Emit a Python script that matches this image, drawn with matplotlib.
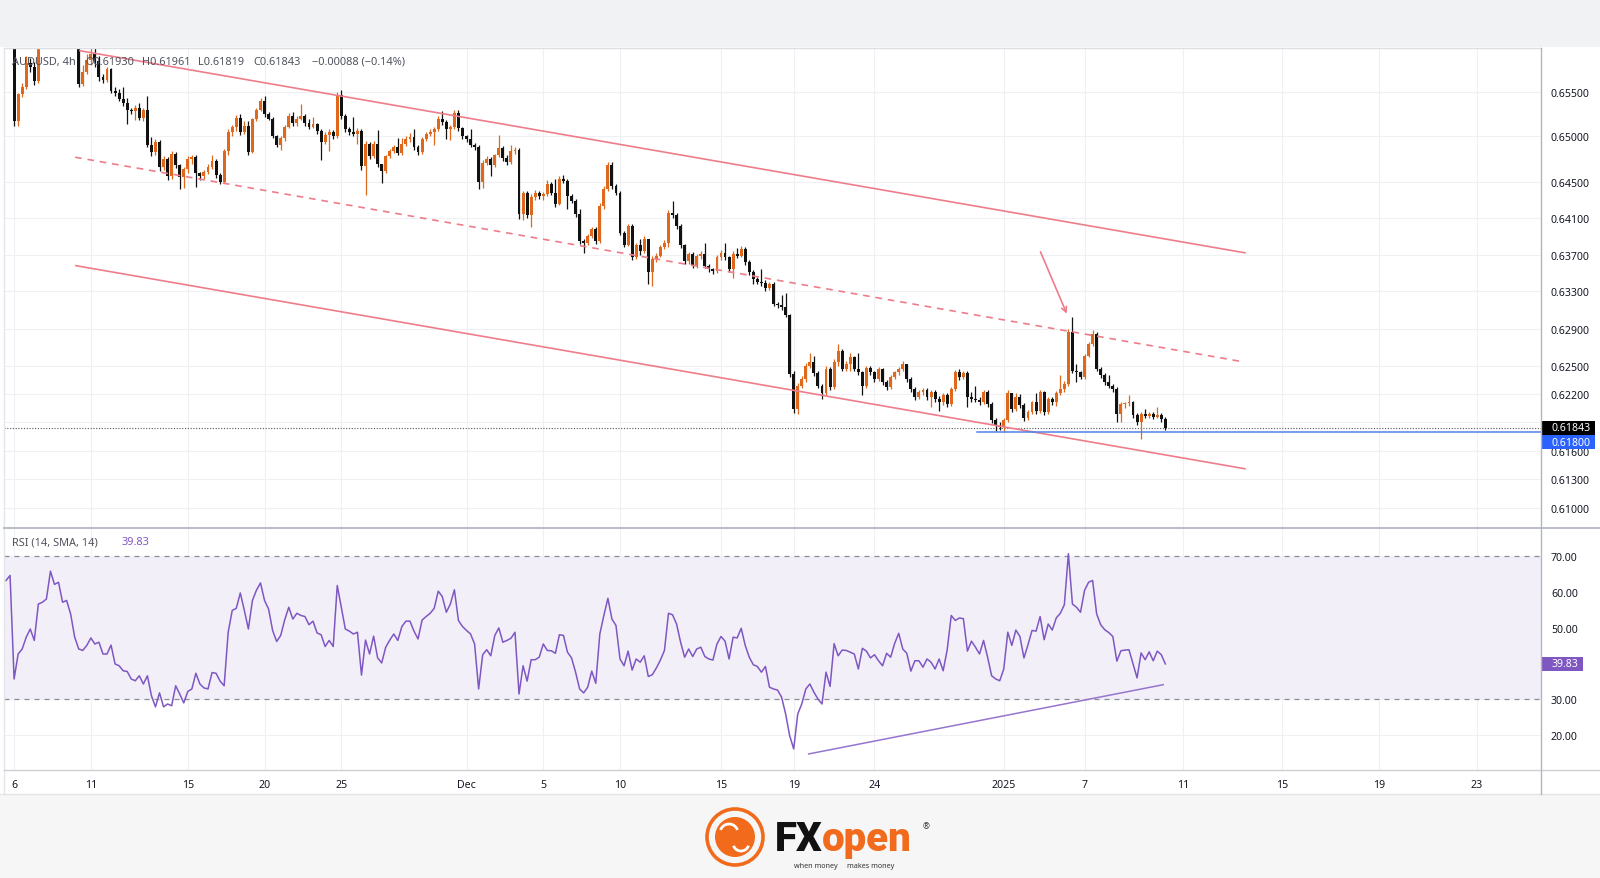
import numpy as np
import matplotlib
matplotlib.use('Agg')
import matplotlib.pyplot as plt
from matplotlib.patches import Rectangle, Circle, Arc
from matplotlib.ticker import NullLocator

plt.rcParams['font.family'] = ['Noto Sans', 'DejaVu Sans']

# ---- AUDUSD 4h bars (open = previous close), first two bars are Nov 5 ----
first_open = 0.6625
close = [
    0.6622, 0.6615,
    0.6517, 0.6547, 0.6555, 0.6582, 0.6578, 0.6562, 0.6615, 0.6628, 0.6640, 0.6652,
    0.6670, 0.6662, 0.6655, 0.6640, 0.6625, 0.6612, 0.6559, 0.6572, 0.6586, 0.6592,
    0.6585, 0.6566, 0.6563, 0.6575, 0.6551, 0.6549, 0.6542, 0.6537, 0.6530, 0.6528,
    0.6532, 0.6521, 0.6529, 0.6490, 0.6483, 0.6494, 0.6466, 0.6475, 0.6456, 0.6481,
    0.6468, 0.6455, 0.6464, 0.6475, 0.6477, 0.6459, 0.6456, 0.6461, 0.6466, 0.6473,
    0.6457, 0.6450, 0.6484, 0.6505, 0.6510, 0.6521, 0.6505, 0.6512, 0.6483, 0.6519,
    0.6530, 0.6540, 0.6525, 0.6520, 0.6500, 0.6491, 0.6498, 0.6511, 0.6523, 0.6515,
    0.6520, 0.6523, 0.6515, 0.6511, 0.6514, 0.6506, 0.6494, 0.6502, 0.6505, 0.6500,
    0.6546, 0.6523, 0.6508, 0.6505, 0.6503, 0.6506, 0.6467, 0.6492, 0.6478, 0.6492,
    0.6469, 0.6462, 0.6478, 0.6484, 0.6488, 0.6482, 0.6492, 0.6497, 0.6499, 0.6488,
    0.6483, 0.6497, 0.6503, 0.6505, 0.6508, 0.6520, 0.6516, 0.6508, 0.6510, 0.6526,
    0.6509, 0.6500, 0.6497, 0.6490, 0.6488, 0.6450, 0.6471, 0.6475, 0.6468, 0.6479,
    0.6487, 0.6476, 0.6472, 0.6484, 0.6485, 0.6414, 0.6438, 0.6413, 0.6433, 0.6438,
    0.6434, 0.6436, 0.6447, 0.6438, 0.6425, 0.6453, 0.6451, 0.6434, 0.6429, 0.6414,
    0.6385, 0.6383, 0.6390, 0.6398, 0.6385, 0.6423, 0.6442, 0.6468, 0.6445, 0.6438,
    0.6394, 0.6381, 0.6401, 0.6367, 0.6381, 0.6374, 0.6387, 0.6351, 0.6365, 0.6369,
    0.6378, 0.6383, 0.6416, 0.6413, 0.6401, 0.6380, 0.6363, 0.6371, 0.6358, 0.6369,
    0.6371, 0.6358, 0.6354, 0.6352, 0.6367, 0.6372, 0.6367, 0.6354, 0.6371, 0.6369,
    0.6376, 0.6362, 0.6351, 0.6344, 0.6340, 0.6339, 0.6334, 0.6338, 0.6317, 0.6315,
    0.6313, 0.6305, 0.6241, 0.6204, 0.6229, 0.6236, 0.6250, 0.6254, 0.6242, 0.6229,
    0.6221, 0.6247, 0.6227, 0.6254, 0.6266, 0.6247, 0.6252, 0.6259, 0.6247, 0.6243,
    0.6228, 0.6248, 0.6243, 0.6236, 0.6247, 0.6233, 0.6227, 0.6238, 0.6243, 0.6247,
    0.6252, 0.6236, 0.6225, 0.6217, 0.6222, 0.6224, 0.6217, 0.6222, 0.6215, 0.6211,
    0.6219, 0.6209, 0.6225, 0.6243, 0.6238, 0.6242, 0.6217, 0.6215, 0.6214, 0.6211,
    0.6222, 0.6209, 0.6192, 0.6186, 0.6185, 0.6192, 0.6221, 0.6204, 0.6217, 0.6208,
    0.6194, 0.6201, 0.6211, 0.6202, 0.6222, 0.6201, 0.6215, 0.6211, 0.6221, 0.6225,
    0.6231, 0.6286, 0.6245, 0.6243, 0.6238, 0.6261, 0.6273, 0.6284, 0.6247, 0.6240,
    0.6233, 0.6229, 0.6225, 0.6199, 0.6209, 0.6210, 0.6211, 0.6198, 0.6190, 0.6199,
    0.6197, 0.6199, 0.6196, 0.6198, 0.6193, 0.61843,
]
high = [
    0.6630, 0.6628,
    0.6630, 0.6549, 0.6560, 0.6590, 0.6588, 0.6583, 0.6625, 0.6640, 0.6655, 0.6668,
    0.6688, 0.6680, 0.6668, 0.6660, 0.6645, 0.6630, 0.6615, 0.6580, 0.6592, 0.6605,
    0.6610, 0.6590, 0.6570, 0.6578, 0.6577, 0.6555, 0.6553, 0.6555, 0.6543, 0.6532,
    0.6535, 0.6537, 0.6532, 0.6545, 0.6499, 0.6497, 0.6496, 0.6478, 0.6477, 0.6484,
    0.6483, 0.6470, 0.6466, 0.6478, 0.6480, 0.6479, 0.6461, 0.6463, 0.6469, 0.6479,
    0.6475, 0.6459, 0.6486, 0.6508, 0.6513, 0.6524, 0.6525, 0.6517, 0.6517, 0.6521,
    0.6532, 0.6543, 0.6545, 0.6527, 0.6522, 0.6502, 0.6500, 0.6513, 0.6526, 0.6527,
    0.6523, 0.6536, 0.6525, 0.6520, 0.6522, 0.6515, 0.6508, 0.6505, 0.6508, 0.6507,
    0.6550, 0.6552, 0.6525, 0.6510, 0.6522, 0.6509, 0.6508, 0.6495, 0.6494, 0.6495,
    0.6507, 0.6470, 0.6480, 0.6486, 0.6491, 0.6498, 0.6498, 0.6500, 0.6504, 0.6508,
    0.6490, 0.6499, 0.6505, 0.6508, 0.6511, 0.6523, 0.6528, 0.6518, 0.6513, 0.6530,
    0.6529, 0.6511, 0.6502, 0.6508, 0.6493, 0.6490, 0.6474, 0.6478, 0.6477, 0.6481,
    0.6502, 0.6489, 0.6480, 0.6490, 0.6488, 0.6487, 0.6440, 0.6440, 0.6436, 0.6441,
    0.6440, 0.6439, 0.6452, 0.6450, 0.6453, 0.6456, 0.6457, 0.6453, 0.6436, 0.6431,
    0.6420, 0.6387, 0.6392, 0.6400, 0.6400, 0.6426, 0.6445, 0.6472, 0.6472, 0.6447,
    0.6440, 0.6396, 0.6403, 0.6403, 0.6383, 0.6387, 0.6390, 0.6385, 0.6368, 0.6372,
    0.6380, 0.6386, 0.6419, 0.6429, 0.6415, 0.6403, 0.6382, 0.6373, 0.6373, 0.6371,
    0.6374, 0.6383, 0.6360, 0.6356, 0.6370, 0.6375, 0.6383, 0.6368, 0.6374, 0.6377,
    0.6379, 0.6378, 0.6364, 0.6353, 0.6346, 0.6354, 0.6342, 0.6340, 0.6340, 0.6319,
    0.6326, 0.6328, 0.6306, 0.6244, 0.6232, 0.6239, 0.6253, 0.6264, 0.6261, 0.6244,
    0.6231, 0.6250, 0.6249, 0.6257, 0.6273, 0.6268, 0.6255, 0.6264, 0.6261, 0.6264,
    0.6245, 0.6250, 0.6250, 0.6245, 0.6249, 0.6248, 0.6235, 0.6240, 0.6245, 0.6249,
    0.6255, 0.6252, 0.6238, 0.6227, 0.6224, 0.6226, 0.6226, 0.6224, 0.6224, 0.6218,
    0.6221, 0.6221, 0.6227, 0.6246, 0.6247, 0.6244, 0.6244, 0.6222, 0.6229, 0.6217,
    0.6224, 0.6224, 0.6211, 0.6194, 0.6190, 0.6194, 0.6224, 0.6221, 0.6221, 0.6220,
    0.6210, 0.6203, 0.6213, 0.6221, 0.6224, 0.6223, 0.6217, 0.6217, 0.6223, 0.6240,
    0.6234, 0.6290, 0.6302, 0.6252, 0.6245, 0.6263, 0.6276, 0.6288, 0.6286, 0.6249,
    0.6242, 0.6240, 0.6231, 0.6227, 0.6211, 0.6212, 0.6219, 0.6213, 0.6200, 0.6201,
    0.6204, 0.6201, 0.6201, 0.6206, 0.6200, 0.61961,
]
low = [
    0.6610, 0.6608,
    0.6512, 0.6512, 0.6544, 0.6553, 0.6572, 0.6558, 0.6560, 0.6605, 0.6620, 0.6632,
    0.6645, 0.6650, 0.6640, 0.6630, 0.6615, 0.6605, 0.6555, 0.6556, 0.6570, 0.6580,
    0.6578, 0.6562, 0.6560, 0.6561, 0.6549, 0.6545, 0.6540, 0.6534, 0.6514, 0.6525,
    0.6518, 0.6518, 0.6517, 0.6488, 0.6478, 0.6479, 0.6462, 0.6463, 0.6452, 0.6453,
    0.6465, 0.6442, 0.6443, 0.6460, 0.6470, 0.6444, 0.6452, 0.6453, 0.6458, 0.6464,
    0.6454, 0.6447, 0.6448, 0.6480, 0.6500, 0.6506, 0.6502, 0.6503, 0.6480, 0.6482,
    0.6517, 0.6528, 0.6522, 0.6518, 0.6498, 0.6488, 0.6485, 0.6495, 0.6509, 0.6512,
    0.6512, 0.6518, 0.6512, 0.6508, 0.6509, 0.6503, 0.6474, 0.6492, 0.6484, 0.6497,
    0.6498, 0.6520, 0.6505, 0.6502, 0.6500, 0.6492, 0.6463, 0.6435, 0.6475, 0.6476,
    0.6466, 0.6448, 0.6460, 0.6476, 0.6482, 0.6479, 0.6480, 0.6489, 0.6494, 0.6485,
    0.6480, 0.6481, 0.6495, 0.6500, 0.6490, 0.6506, 0.6513, 0.6497, 0.6496, 0.6508,
    0.6506, 0.6497, 0.6494, 0.6488, 0.6485, 0.6442, 0.6443, 0.6468, 0.6456, 0.6466,
    0.6477, 0.6473, 0.6468, 0.6470, 0.6481, 0.6409, 0.6408, 0.6410, 0.6400, 0.6430,
    0.6431, 0.6430, 0.6434, 0.6435, 0.6422, 0.6424, 0.6448, 0.6420, 0.6426, 0.6411,
    0.6382, 0.6372, 0.6381, 0.6388, 0.6382, 0.6383, 0.6420, 0.6440, 0.6442, 0.6435,
    0.6391, 0.6378, 0.6379, 0.6364, 0.6365, 0.6370, 0.6372, 0.6338, 0.6336, 0.6362,
    0.6367, 0.6376, 0.6378, 0.6410, 0.6398, 0.6377, 0.6360, 0.6360, 0.6355, 0.6356,
    0.6365, 0.6355, 0.6351, 0.6349, 0.6350, 0.6364, 0.6364, 0.6351, 0.6345, 0.6366,
    0.6367, 0.6359, 0.6348, 0.6338, 0.6338, 0.6336, 0.6331, 0.6332, 0.6314, 0.6312,
    0.6310, 0.6302, 0.6238, 0.6200, 0.6199, 0.6226, 0.6233, 0.6248, 0.6239, 0.6226,
    0.6215, 0.6219, 0.6224, 0.6225, 0.6250, 0.6244, 0.6245, 0.6244, 0.6244, 0.6240,
    0.6219, 0.6226, 0.6240, 0.6233, 0.6234, 0.6230, 0.6224, 0.6225, 0.6236, 0.6240,
    0.6245, 0.6233, 0.6222, 0.6214, 0.6215, 0.6219, 0.6214, 0.6206, 0.6212, 0.6202,
    0.6208, 0.6206, 0.6207, 0.6223, 0.6235, 0.6236, 0.6206, 0.6212, 0.6212, 0.6208,
    0.6209, 0.6206, 0.6189, 0.6181, 0.6182, 0.6180, 0.6190, 0.6201, 0.6202, 0.6205,
    0.6191, 0.6192, 0.6199, 0.6199, 0.6200, 0.6198, 0.6199, 0.6208, 0.6207, 0.6219,
    0.6222, 0.6229, 0.6242, 0.6233, 0.6236, 0.6236, 0.6259, 0.6271, 0.6244, 0.6237,
    0.6230, 0.6226, 0.6222, 0.6190, 0.6190, 0.6205, 0.6207, 0.6195, 0.6187, 0.6172,
    0.6194, 0.6195, 0.6193, 0.6194, 0.6190, 0.61819,
]
rsi = [
    63.2, 64.6,
    35.6, 42.6, 44.0, 47.3, 49.6, 46.4, 56.6, 57.1, 58.0, 65.8,
    62.1, 62.7, 57.1, 57.6, 53.8, 47.3, 44.0, 43.6, 45.0, 47.1,
    45.4, 45.9, 42.6, 42.6, 45.1, 39.8, 39.3, 37.9, 37.7, 35.6,
    35.1, 36.5, 34.2, 36.5, 30.9, 27.8, 31.7, 27.8, 28.6, 28.1,
    33.7, 31.4, 28.9, 32.1, 32.8, 37.2, 34.2, 33.1, 32.8, 37.4,
    37.2, 35.0, 33.7, 48.7, 54.8, 55.4, 59.7, 54.8, 49.6, 57.6,
    60.5, 62.5, 57.6, 55.2, 49.2, 46.1, 47.8, 52.2, 55.7, 52.4,
    54.0, 53.4, 53.1, 50.8, 51.8, 48.5, 48.0, 44.7, 46.4, 44.7,
    61.8, 55.7, 49.6, 49.0, 48.2, 48.7, 36.7, 46.5, 42.6, 47.6,
    41.5, 40.1, 44.5, 46.5, 48.2, 46.4, 50.3, 51.8, 51.8, 49.0,
    46.8, 52.1, 53.1, 54.0, 55.4, 60.2, 58.7, 54.3, 56.6, 60.6,
    52.0, 50.3, 49.2, 48.2, 45.4, 32.8, 42.4, 43.8, 42.1, 47.8,
    49.9, 45.9, 46.4, 47.0, 48.7, 31.4, 39.3, 35.0, 41.0, 41.0,
    41.7, 45.4, 43.6, 43.5, 42.8, 48.0, 47.8, 43.1, 41.5, 37.5,
    32.8, 31.7, 33.3, 37.8, 34.4, 48.2, 53.4, 58.2, 52.4, 50.6,
    41.2, 39.3, 43.4, 38.1, 41.2, 40.3, 42.1, 36.3, 36.8, 38.7,
    40.9, 43.6, 54.0, 53.6, 51.0, 45.9, 41.7, 44.0, 41.9, 44.0,
    44.5, 41.9, 41.2, 40.9, 45.4, 47.5, 46.2, 41.2, 47.3, 47.1,
    49.8, 45.0, 41.7, 39.6, 39.1, 37.5, 39.1, 33.3, 32.8, 32.5,
    30.5, 25.8, 19.7, 16.0, 25.8, 28.6, 32.8, 34.2, 31.9, 30.0,
    28.6, 37.5, 33.5, 45.5, 42.1, 43.7, 43.6, 43.1, 42.6, 38.4,
    44.2, 43.4, 41.5, 42.4, 40.7, 39.3, 42.8, 41.7, 45.6, 48.4,
    44.0, 42.8, 37.8, 40.7, 40.7, 38.9, 41.2, 40.3, 38.4, 41.2,
    37.9, 43.8, 53.4, 52.0, 52.7, 52.5, 43.4, 46.2, 44.5, 42.6,
    46.4, 41.7, 36.5, 35.6, 35.1, 38.4, 48.7, 45.0, 49.3, 47.5,
    41.5, 45.2, 49.2, 49.0, 53.1, 46.6, 51.0, 49.3, 52.7, 54.0,
    56.4, 70.7, 56.6, 55.7, 54.3, 60.4, 62.7, 63.2, 53.8, 50.8,
    49.4, 48.6, 47.5, 40.6, 43.5, 43.7, 43.8, 39.8, 35.9, 42.9,
    41.0, 43.2, 40.7, 43.4, 42.4, 39.83,
]

# date labels and the bar they fall on (future bars continue the count)
date_labels = ['6', '11', '15', '20', '25', 'Dec', '5', '10', '15', '19', '24',
               '2025', '7', '11', '15', '19', '23']
date_bars = [2, 21, 45, 64, 83, 114, 133, 152, 177, 195, 215, 247, 267,
             291.4, 315.8, 340, 364.1]
price_ticks = [0.610, 0.613, 0.616, 0.619, 0.622, 0.625, 0.629, 0.633,
               0.637, 0.641, 0.645, 0.650, 0.655]
hidden_ticks = [0.619]          # covered by the last-price marker
rsi_ticks = [20, 30, 40, 50, 60, 70]

header = ['AUDUSD, 4h', 'O0.61930', 'H0.61961', 'L0.61819', 'C0.61843',
          '\u22120.00088 (\u22120.14%)']
last_price = 0.61843
support = 0.61800
rsi_last = 39.83

# drawn objects: (bar, price) end points
upper_x, upper_y = [18.3, 306.7], [0.6596, 0.6372]
mid_x, mid_y = [17.1, 306.7], [0.6477, 0.6254]
lower_x, lower_y = [17.3, 306.7], [0.6358, 0.6141]
arrow_from, arrow_to = (256.1, 0.6373), (262.6, 0.6306)
support_from = 240.3
rsi_trend_x, rsi_trend_y = [198.7, 286.5], [14.6, 34.0]

ORANGE = '#e0681c'
BLACK = '#111111'
RED = '#ee7d8a'
PURPLE = '#7e57c2'
GRID = '#eef0f3'
TXT = '#131722'

W, H = 1600, 879
fig = plt.figure(figsize=(W / 100, H / 100), dpi=100)
fig.patch.set_facecolor('white')


def px_rect(x0, y0, x1, y1):
    return [x0 / W, 1 - y1 / H, (x1 - x0) / W, (y1 - y0) / H]


bg = fig.add_axes([0, 0, 1, 1], zorder=-5)
bg.set_xlim(0, W)
bg.set_ylim(H, 0)
bg.axis('off')
bg.add_patch(Rectangle((0, 0), W, 48, fc='#f1f2f4', ec='none'))
bg.add_patch(Rectangle((0, 795), W, H - 795, fc='#f6f6f7', ec='none'))

ax1 = fig.add_axes(px_rect(4, 49, 1541, 529))
ax2 = fig.add_axes(px_rect(4, 529, 1541, 771), sharex=ax1)

c = np.array(close)
o = np.r_[first_open, c[:-1]]
h = np.maximum(np.array(high), np.maximum(o, c))
l = np.minimum(np.array(low), np.minimum(o, c))
x = np.arange(len(c))
col = np.where(c >= o, ORANGE, BLACK)
body = np.maximum(np.abs(c - o), 0.00004)

ax1.set_yscale('log')
ax1.vlines(x, l, h, colors=col, lw=0.9, zorder=3)
ax1.bar(x, body, bottom=np.minimum(o, c), width=0.72, color=col, lw=0, zorder=4)

ax1.plot(upper_x, upper_y, color=RED, lw=1.2, zorder=5)
ax1.plot(lower_x, lower_y, color=RED, lw=1.2, zorder=5)
ax1.plot(mid_x, mid_y, color=RED, lw=1.2, ls=(0, (4, 3.5)), zorder=5)
ax1.annotate('', xy=arrow_to, xytext=arrow_from,
             arrowprops=dict(arrowstyle='->', color=RED, lw=1.2,
                             mutation_scale=9, shrinkA=0, shrinkB=0), zorder=6)
ax1.axhline(last_price, color='#555555', lw=0.8, ls=(0, (1, 1.5)), zorder=2)
ax1.plot([support_from, 390], [support, support], color='#4d83e8', lw=1.1, zorder=5)

ax1.set_xlim(-0.5, 380.0)
ax1.set_ylim(0.60791, 0.65991)
ax1.set_yticks(price_ticks,
               labels=['' if t in hidden_ticks else f'{t:.5f}' for t in price_ticks])
ax1.yaxis.set_minor_locator(NullLocator())
ax1.yaxis.tick_right()
ax1.tick_params(axis='y', length=0, pad=7.2, labelsize=7.6, labelcolor=TXT)
ax1.tick_params(axis='x', bottom=False, labelbottom=False)
ax1.grid(True, color=GRID, lw=0.8, zorder=0)
for s in ax1.spines.values():
    s.set_visible(False)

# RSI panel
ax2.axhspan(30, 70, color=PURPLE, alpha=0.09, lw=0, zorder=1)
ax2.axhline(70, color='#8a8d96', lw=0.9, ls=(0, (4, 4)), zorder=2)
ax2.axhline(30, color='#8a8d96', lw=0.9, ls=(0, (4, 4)), zorder=2)
ax2.plot(x, rsi, color=PURPLE, lw=1.1, zorder=4)
ax2.plot(rsi_trend_x, rsi_trend_y, color='#9575cd', lw=1.1, zorder=4)
ax2.set_ylim(10.1, 77.9)
ax2.set_yticks(rsi_ticks, labels=[f'{t:.2f}' if t != 40 else '' for t in rsi_ticks])
ax2.yaxis.tick_right()
ax2.tick_params(axis='y', length=0, pad=7.2, labelsize=7.6, labelcolor=TXT)
ax2.set_xticks(date_bars, labels=date_labels)
ax2.tick_params(axis='x', length=0, pad=6.5, labelsize=7.6, labelcolor=TXT)
ax2.grid(True, color=GRID, lw=0.8, zorder=0)
for s in ax2.spines.values():
    s.set_visible(False)

# overlay for borders, price labels and logo
top = fig.add_axes([0, 0, 1, 1], zorder=10)
top.set_xlim(0, W)
top.set_ylim(H, 0)
top.axis('off')
top.patch.set_alpha(0)

top.plot([4, 1541], [49, 49], color='#dcdfe4', lw=1)
top.plot([4, 4], [49, 795], color='#e3e5e9', lw=1)
top.plot([4, W], [529, 529], color='#b9bdc5', lw=1.4)
top.plot([4, W], [771, 771], color='#cdd0d5', lw=1)
top.plot([0, W], [795, 795], color='#e2e4e8', lw=1)
top.plot([1541, 1541], [49, 795], color='#b2b5be', lw=1)


def y_of(ax, v):
    return H - ax.transData.transform((0, v))[1]


yc = y_of(ax1, last_price)
top.add_patch(Rectangle((1541, yc - 7), 54, 14, fc='#000000', ec='none'))
top.text(1551, yc, f'{last_price:.5f}', color='white', fontsize=7.6,
         fontweight='bold', va='center', ha='left')
ys = yc + 14.5
top.add_patch(Rectangle((1541, ys - 7), 54, 14, fc='#2962ff', ec='none'))
top.text(1551, ys, f'{support:.5f}', color='white', fontsize=7.6,
         fontweight='bold', va='center', ha='left')
yr = y_of(ax2, rsi_last)
top.add_patch(Rectangle((1541, yr - 7.3), 42, 14.6, fc=PURPLE, ec='none'))
top.text(1551, yr, f'{rsi_last:.2f}', color='white', fontsize=7.6,
         fontweight='bold', va='center', ha='left')

# legend lines
hx = [12, 85, 142, 198, 253, 312]
for t, xx in zip(header, hx):
    top.text(xx, 62.5, t, fontsize=7.9, color='#50535e', va='center', ha='left')
top.text(12, 543, 'RSI (14, SMA, 14)', fontsize=7.9, color='#50535e', va='center')
top.text(122, 543, f'{rsi_last:.2f}', fontsize=7.9, color=PURPLE, va='center')

# FXopen logo
LOGO = '#f26a1b'
top.add_patch(Circle((735, 838), 28, fill=False, ec=LOGO, lw=2.6))
top.add_patch(Circle((735, 838), 20, fc=LOGO, ec='none'))
top.add_patch(Arc((729, 834), 18, 18, theta1=200, theta2=340, color='white', lw=2))
top.add_patch(Arc((741, 844), 16, 16, theta1=20, theta2=160, color='white', lw=2))
t1 = top.text(775, 851, 'FX', fontsize=29, fontweight='black', color='#111111',
              family=['Roboto', 'DejaVu Sans'], va='baseline', ha='left')
fig.canvas.draw()
bb = t1.get_window_extent()
top.text(775 + bb.width - 1, 851, 'open', fontsize=29, fontweight='black', color=LOGO,
         family=['Roboto', 'DejaVu Sans'], va='baseline', ha='left')
top.text(923, 827, '\u00ae', fontsize=6, color='#333333', va='center', ha='left')
top.text(794, 867, 'when money     makes money', fontsize=5.2, color='#333333',
         va='center', ha='left')

fig.savefig('out.png', dpi=100, facecolor=fig.get_facecolor())
